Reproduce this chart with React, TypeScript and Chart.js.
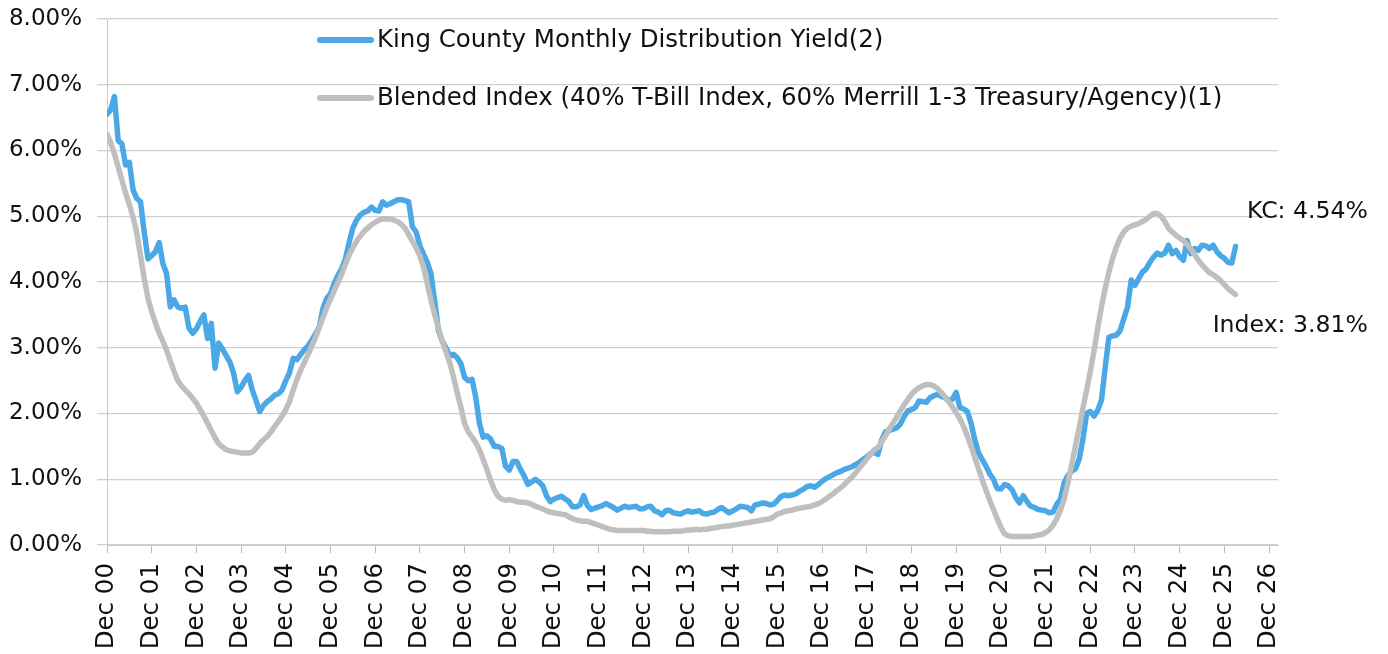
import React, { useEffect, useRef } from "react";
import { Chart, registerables } from "chart.js";

Chart.register(...registerables);

// Monthly values, Dec 2000 .. Mar 2026 (percent)
const kcYield: number[] = [
  6.55, 6.62, 6.82, 6.15, 6.10, 5.78, 5.82, 5.40, 5.27, 5.22, 4.75, 4.35,
  4.40, 4.46, 4.60, 4.28, 4.13, 3.62, 3.73, 3.62, 3.60, 3.62, 3.30, 3.22,
  3.29, 3.40, 3.50, 3.14, 3.37, 2.69, 3.07, 2.98, 2.88, 2.78, 2.61, 2.33,
  2.40, 2.50, 2.58, 2.36, 2.20, 2.03, 2.12, 2.18, 2.22, 2.28, 2.30, 2.36,
  2.50, 2.62, 2.84, 2.82, 2.90, 2.97, 3.03, 3.12, 3.21, 3.32, 3.60, 3.75,
  3.82, 3.98, 4.10, 4.20, 4.35, 4.60, 4.82, 4.94, 5.02, 5.06, 5.08, 5.14,
  5.09, 5.08, 5.22, 5.17, 5.19, 5.22, 5.25, 5.25, 5.24, 5.22, 4.84, 4.76,
  4.55, 4.42, 4.30, 4.12, 3.70, 3.26, 3.10, 3.00, 2.88, 2.90, 2.85, 2.76,
  2.55, 2.50, 2.52, 2.25, 1.85, 1.64, 1.66, 1.61, 1.50, 1.50, 1.47, 1.20,
  1.14, 1.27, 1.27, 1.15, 1.05, 0.92, 0.96, 1.00, 0.96, 0.90, 0.75, 0.66,
  0.70, 0.72, 0.74, 0.70, 0.66, 0.58, 0.58, 0.61, 0.75, 0.60, 0.54, 0.56,
  0.58, 0.60, 0.63, 0.60, 0.57, 0.53, 0.56, 0.59, 0.57, 0.58, 0.59, 0.55,
  0.55, 0.58, 0.59, 0.52, 0.50, 0.46, 0.52, 0.53, 0.49, 0.48, 0.47, 0.50,
  0.52, 0.50, 0.51, 0.52, 0.48, 0.47, 0.49, 0.50, 0.54, 0.57, 0.53, 0.49,
  0.52, 0.55, 0.59, 0.58, 0.57, 0.52, 0.61, 0.62, 0.64, 0.63, 0.61, 0.62,
  0.68, 0.74, 0.76, 0.75, 0.76, 0.78, 0.82, 0.85, 0.89, 0.90, 0.88, 0.92,
  0.97, 1.01, 1.04, 1.07, 1.10, 1.12, 1.15, 1.17, 1.19, 1.22, 1.26, 1.30,
  1.34, 1.39, 1.41, 1.38, 1.60, 1.72, 1.74, 1.76, 1.78, 1.84, 1.95, 2.04,
  2.06, 2.09, 2.19, 2.18, 2.17, 2.24, 2.27, 2.29, 2.26, 2.24, 2.20, 2.22,
  2.32, 2.09, 2.07, 2.03, 1.85, 1.60, 1.40, 1.30, 1.20, 1.08, 1.00, 0.86,
  0.85, 0.92, 0.90, 0.84, 0.72, 0.64, 0.75, 0.66, 0.59, 0.57, 0.54, 0.53,
  0.52, 0.49, 0.50, 0.62, 0.70, 0.95, 1.06, 1.12, 1.16, 1.30, 1.60, 2.00,
  2.03, 1.96, 2.05, 2.20, 2.70, 3.16, 3.18, 3.19, 3.26, 3.44, 3.62, 4.03,
  3.95, 4.05, 4.15, 4.20, 4.30, 4.38, 4.44, 4.41, 4.44, 4.56, 4.43, 4.48,
  4.38, 4.33, 4.63, 4.43, 4.51, 4.48, 4.56, 4.55, 4.51, 4.56, 4.46, 4.40,
  4.36, 4.30, 4.29, 4.54,
];

const blendedIndex: number[] = [
  6.25, 6.12, 5.95, 5.75, 5.55, 5.35, 5.18, 4.98, 4.75, 4.40, 4.05, 3.75,
  3.55, 3.38, 3.22, 3.10, 2.96, 2.80, 2.64, 2.50, 2.42, 2.36, 2.30, 2.23,
  2.16, 2.06, 1.96, 1.85, 1.74, 1.63, 1.54, 1.49, 1.45, 1.43, 1.42, 1.41,
  1.40, 1.40, 1.40, 1.41, 1.47, 1.54, 1.60, 1.65, 1.72, 1.80, 1.88, 1.96,
  2.06, 2.18, 2.36, 2.52, 2.66, 2.78, 2.90, 3.03, 3.16, 3.31, 3.46, 3.61,
  3.74, 3.87, 3.99, 4.12, 4.27, 4.41, 4.52, 4.62, 4.70, 4.77, 4.82, 4.87,
  4.91, 4.94, 4.96, 4.96, 4.96, 4.94, 4.92, 4.88, 4.82, 4.72, 4.62, 4.52,
  4.40, 4.22, 3.98, 3.72, 3.50, 3.30, 3.10, 2.94, 2.78, 2.56, 2.32, 2.10,
  1.85, 1.72, 1.64, 1.56, 1.45, 1.30, 1.15, 0.98, 0.84, 0.74, 0.70, 0.68,
  0.69, 0.68, 0.66, 0.65, 0.65, 0.64, 0.62, 0.59, 0.57, 0.55, 0.52, 0.50,
  0.49, 0.48, 0.47, 0.46, 0.43, 0.40, 0.38, 0.37, 0.36, 0.36, 0.34, 0.32,
  0.30, 0.28, 0.26, 0.24, 0.23, 0.22, 0.22, 0.22, 0.22, 0.22, 0.22, 0.22,
  0.22, 0.21, 0.21, 0.20, 0.20, 0.20, 0.20, 0.20, 0.21, 0.21, 0.21, 0.22,
  0.23, 0.23, 0.24, 0.23, 0.24, 0.24, 0.25, 0.26, 0.27, 0.28, 0.29, 0.29,
  0.30, 0.31, 0.32, 0.33, 0.34, 0.35, 0.36, 0.37, 0.38, 0.39, 0.40, 0.43,
  0.47, 0.49, 0.51, 0.52, 0.53, 0.55, 0.56, 0.57, 0.58, 0.59, 0.61, 0.63,
  0.66, 0.70, 0.74, 0.78, 0.83, 0.87, 0.92, 0.98, 1.03, 1.10, 1.17, 1.24,
  1.31, 1.38, 1.45, 1.48, 1.57, 1.66, 1.76, 1.85, 1.94, 2.04, 2.13, 2.21,
  2.29, 2.35, 2.39, 2.42, 2.44, 2.44, 2.42, 2.38, 2.32, 2.25, 2.18, 2.10,
  2.01, 1.92, 1.80, 1.66, 1.50, 1.33, 1.16, 0.99, 0.83, 0.68, 0.54, 0.40,
  0.27, 0.17, 0.14, 0.13, 0.13, 0.13, 0.13, 0.13, 0.13, 0.14, 0.15, 0.16,
  0.19, 0.23, 0.30, 0.40, 0.53, 0.70, 0.95, 1.22, 1.50, 1.78, 2.07, 2.35,
  2.64, 2.95, 3.30, 3.62, 3.90, 4.15, 4.36, 4.53, 4.67, 4.76, 4.82, 4.85,
  4.87, 4.89, 4.92, 4.95, 5.00, 5.04, 5.04, 5.00, 4.92, 4.82, 4.76, 4.71,
  4.67, 4.63, 4.57, 4.50, 4.42, 4.33, 4.26, 4.20, 4.14, 4.11, 4.07, 4.02,
  3.96, 3.90, 3.85, 3.81,
];

const xTickLabels: string[] = [
  "Dec 00", "Dec 01", "Dec 02", "Dec 03", "Dec 04", "Dec 05", "Dec 06",
  "Dec 07", "Dec 08", "Dec 09", "Dec 10", "Dec 11", "Dec 12", "Dec 13",
  "Dec 14", "Dec 15", "Dec 16", "Dec 17", "Dec 18", "Dec 19", "Dec 20",
  "Dec 21", "Dec 22", "Dec 23", "Dec 24", "Dec 25", "Dec 26",
];

const yTickValues: number[] = [0, 1, 2, 3, 4, 5, 6, 7, 8];

const seriesLabels: string[] = [
  "King County Monthly Distribution Yield(2)",
  "Blended Index (40% T-Bill Index, 60% Merrill 1-3 Treasury/Agency)(1)",
];

const endLabels: string[] = ["KC: 4.54%", "Index: 3.81%"];

const BLUE = "#4BA8E6";
const GREY = "#BFBFBF";
const FONT = "'DejaVu Sans', sans-serif";

const overlayPlugin = {
  id: "overlay",
  afterDraw(chart: any) {
    const ctx = chart.ctx;
    ctx.save();
    // legend
    const items = [
      { color: BLUE, label: seriesLabels[0], y: 40 },
      { color: GREY, label: seriesLabels[1], y: 98 },
    ];
    items.forEach((it) => {
      ctx.strokeStyle = it.color;
      ctx.lineWidth = 6;
      ctx.lineCap = "round";
      ctx.beginPath();
      ctx.moveTo(320, it.y);
      ctx.lineTo(371, it.y);
      ctx.stroke();
      ctx.fillStyle = "#111111";
      ctx.font = `24.5px ${FONT}`;
      ctx.textAlign = "left";
      ctx.textBaseline = "middle";
      ctx.fillText(it.label, 377, it.y + 1);
    });
    // end labels
    ctx.font = `23.6px ${FONT}`;
    ctx.textAlign = "right";
    ctx.textBaseline = "middle";
    ctx.fillStyle = "#111111";
    ctx.fillText(endLabels[0], 1368, 212);
    ctx.fillText(endLabels[1], 1368, 326);
    ctx.restore();
  },
};

export default function App() {
  const canvasRef = useRef<HTMLCanvasElement | null>(null);

  useEffect(() => {
    if (!canvasRef.current) return;
    const kcPoints = kcYield.map((v, i) => ({ x: i, y: v }));
    const idxPoints = blendedIndex.map((v, i) => ({ x: i, y: v }));
    const tickMonths = xTickLabels.map((_, i) => i * 12);

    const chart = new Chart(canvasRef.current, {
      type: "line",
      data: {
        datasets: [
          {
            label: seriesLabels[0],
            data: kcPoints,
            borderColor: BLUE,
            backgroundColor: BLUE,
            borderWidth: 5.5,
            pointRadius: 0,
            tension: 0,
            order: 2,
            borderJoinStyle: "round",
            borderCapStyle: "round",
          },
          {
            label: seriesLabels[1],
            data: idxPoints,
            borderColor: GREY,
            backgroundColor: GREY,
            borderWidth: 5.5,
            pointRadius: 0,
            tension: 0,
            order: 1,
            borderJoinStyle: "round",
            borderCapStyle: "round",
          },
        ],
      },
      options: {
        animation: false,
        responsive: true,
        maintainAspectRatio: false,
        layout: { padding: { top: 19, right: 110, left: 0, bottom: 0 } },
        plugins: {
          legend: { display: false },
          tooltip: { enabled: false },
        },
        scales: {
          x: {
            type: "linear",
            min: 0,
            max: 314.4,
            afterBuildTicks: (scale: any) => {
              scale.ticks = tickMonths.map((v) => ({ value: v }));
            },
            afterFit: (scale: any) => {
              scale.height = 109;
              scale.paddingLeft = 0;
              scale.paddingRight = 0;
            },
            grid: {
              display: true,
              drawOnChartArea: false,
              drawTicks: true,
              tickLength: 8,
              color: "#BDBDBD",
            },
            border: { display: true, color: "#C8C8C8", width: 1 },
            ticks: {
              autoSkip: false,
              minRotation: 90,
              maxRotation: 90,
              padding: 10,
              color: "#111111",
              font: { family: FONT, size: 24.5 },
              callback: (value: any) => {
                const i = Math.round(Number(value) / 12);
                return xTickLabels[i] ?? "";
              },
            },
          },
          y: {
            type: "linear",
            min: 0,
            max: 8,
            afterBuildTicks: (scale: any) => {
              scale.ticks = yTickValues.map((v) => ({ value: v }));
            },
            afterFit: (scale: any) => {
              scale.width = 107;
              scale.paddingTop = 0;
              scale.paddingBottom = 0;
            },
            grid: {
              color: "#CFCFCF",
              lineWidth: 1.3,
              drawTicks: true,
              tickLength: 10,
            },
            border: { display: true, color: "#C8C8C8", width: 1 },
            ticks: {
              padding: 15,
              color: "#111111",
              font: { family: FONT, size: 23 },
              callback: (value: any) => Number(value).toFixed(2) + "%",
            },
          },
        },
      },
      plugins: [overlayPlugin],
    } as any);

    return () => chart.destroy();
  }, []);

  return (
    <div
      style={{
        position: "fixed",
        left: 0,
        top: 0,
        width: 1388,
        height: 654,
        background: "#ffffff",
      }}
    >
      <canvas ref={canvasRef} />
    </div>
  );
}
